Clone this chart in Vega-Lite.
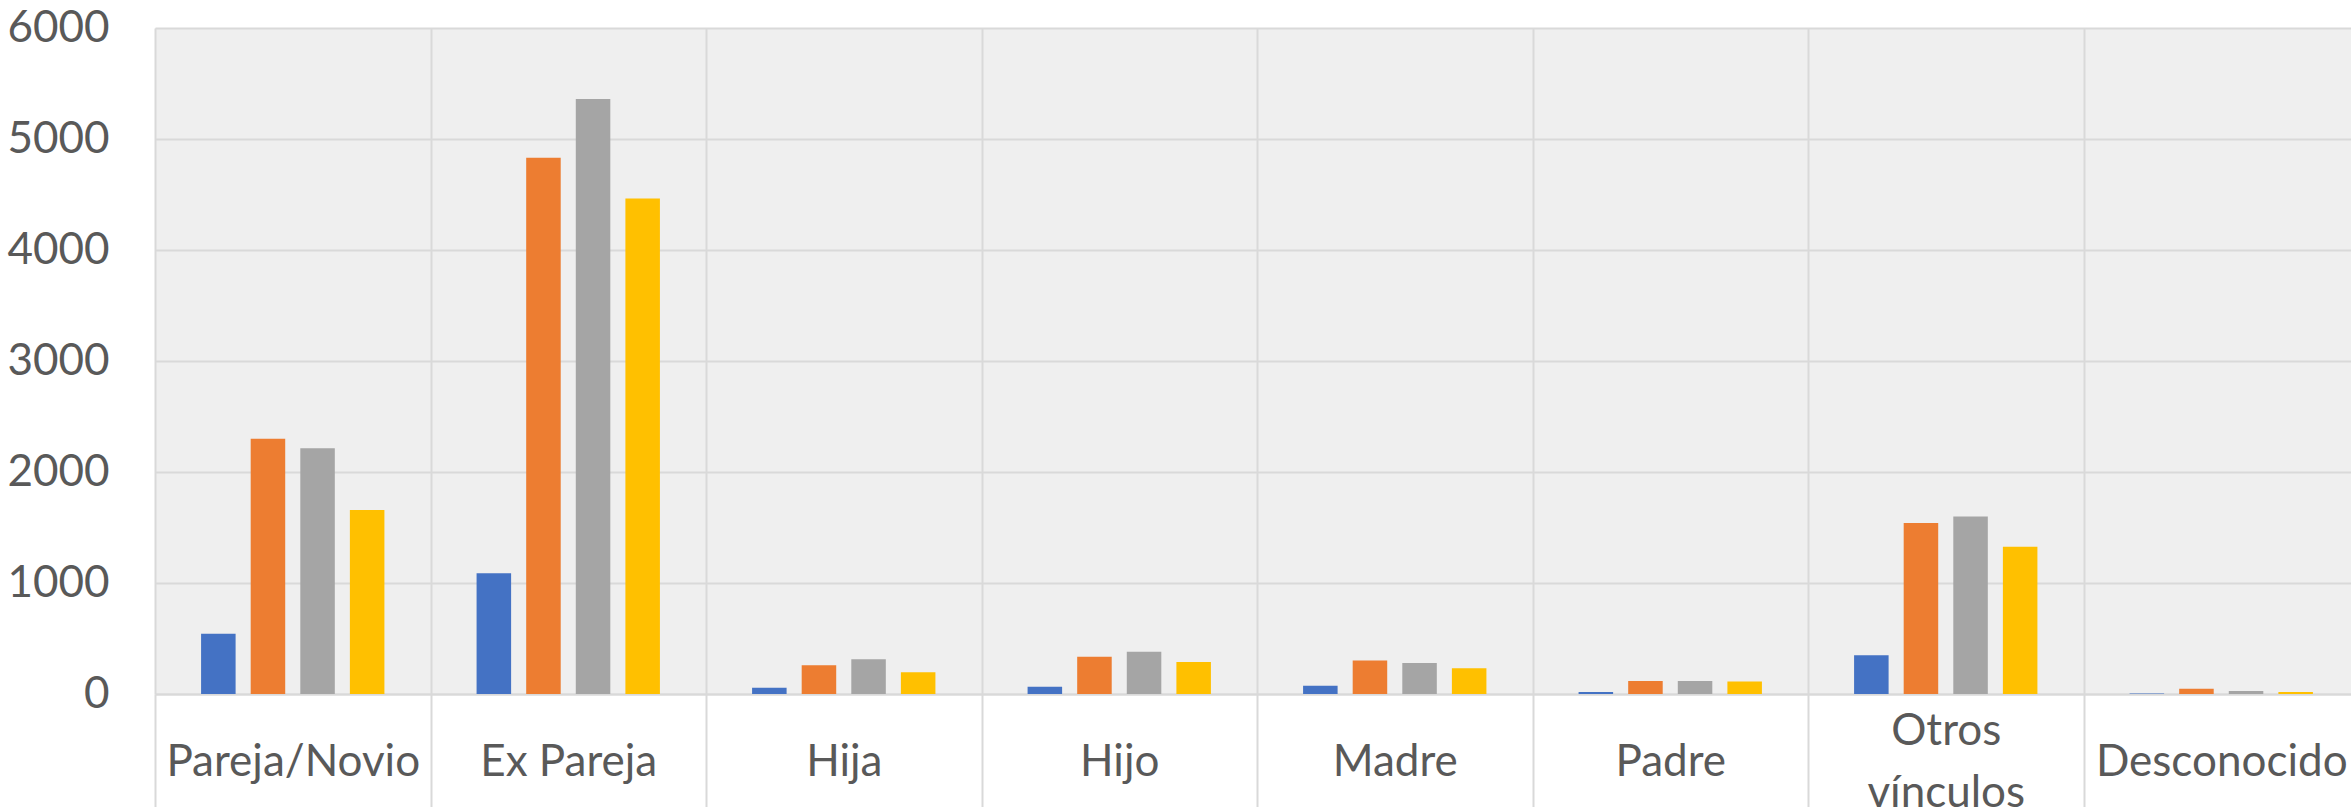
{
  "$schema": "https://vega.github.io/schema/vega-lite/v6.json",
  "width": 2204,
  "height": 666,
  "autosize": {"type": "none"},
  "padding": {"left": 155, "top": 28, "right": 0, "bottom": 113},
  "background": "white",
  "config": {
    "view": {"stroke": null, "fill": "#efefef"},
    "font": "Lato"
  },
  "data": {
    "values": [
      {"vinculo": "Pareja/Novio", "serie": "S1", "valor": 542},
      {"vinculo": "Pareja/Novio", "serie": "S2", "valor": 2300},
      {"vinculo": "Pareja/Novio", "serie": "S3", "valor": 2213},
      {"vinculo": "Pareja/Novio", "serie": "S4", "valor": 1657},
      {"vinculo": "Ex Pareja", "serie": "S1", "valor": 1088},
      {"vinculo": "Ex Pareja", "serie": "S2", "valor": 4830},
      {"vinculo": "Ex Pareja", "serie": "S3", "valor": 5360},
      {"vinculo": "Ex Pareja", "serie": "S4", "valor": 4463},
      {"vinculo": "Hija", "serie": "S1", "valor": 56},
      {"vinculo": "Hija", "serie": "S2", "valor": 260},
      {"vinculo": "Hija", "serie": "S3", "valor": 312},
      {"vinculo": "Hija", "serie": "S4", "valor": 195},
      {"vinculo": "Hijo", "serie": "S1", "valor": 65},
      {"vinculo": "Hijo", "serie": "S2", "valor": 335},
      {"vinculo": "Hijo", "serie": "S3", "valor": 381},
      {"vinculo": "Hijo", "serie": "S4", "valor": 288},
      {"vinculo": "Madre", "serie": "S1", "valor": 74},
      {"vinculo": "Madre", "serie": "S2", "valor": 302},
      {"vinculo": "Madre", "serie": "S3", "valor": 279},
      {"vinculo": "Madre", "serie": "S4", "valor": 233},
      {"vinculo": "Padre", "serie": "S1", "valor": 19},
      {"vinculo": "Padre", "serie": "S2", "valor": 116},
      {"vinculo": "Padre", "serie": "S3", "valor": 116},
      {"vinculo": "Padre", "serie": "S4", "valor": 112},
      {"vinculo": "Otros vínculos", "serie": "S1", "valor": 349},
      {"vinculo": "Otros vínculos", "serie": "S2", "valor": 1540},
      {"vinculo": "Otros vínculos", "serie": "S3", "valor": 1600},
      {"vinculo": "Otros vínculos", "serie": "S4", "valor": 1326},
      {"vinculo": "Desconocido", "serie": "S1", "valor": 4},
      {"vinculo": "Desconocido", "serie": "S2", "valor": 47},
      {"vinculo": "Desconocido", "serie": "S3", "valor": 28},
      {"vinculo": "Desconocido", "serie": "S4", "valor": 19}
    ]
  },
  "mark": {"type": "bar"},
  "encoding": {
    "x": {
      "field": "vinculo",
      "type": "nominal",
      "sort": ["Pareja/Novio", "Ex Pareja", "Hija", "Hijo", "Madre", "Padre", "Otros vínculos", "Desconocido"],
      "scale": {"paddingInner": 0, "paddingOuter": 0},
      "title": null,
      "axis": {
        "labelAngle": 0,
        "labelFont": "Lato",
        "labelFontSize": 44,
        "labelColor": "#595959",
        "labelBaseline": {"condition": {"test": "datum.value == 'Otros vínculos'", "value": "line-bottom"}, "value": "middle"},
        "labelPadding": -45,
        "labelLineHeight": 62,
        "labelLimit": 0,
        "labelExpr": "datum.label == 'Otros vínculos' ? ['Otros', 'vínculos'] : datum.label",
        "tickBand": "extent",
        "grid": true,
        "gridColor": "#d9d9d9",
        "gridWidth": 2,
        "ticks": true,
        "tickSize": 113,
        "tickColor": "#d9d9d9",
        "tickWidth": 2,
        "domain": true,
        "domainColor": "#d9d9d9",
        "domainWidth": 2
      }
    },
    "xOffset": {
      "field": "serie",
      "type": "nominal",
      "scale": {"paddingInner": 0.304, "paddingOuter": 0.929}
    },
    "y": {
      "field": "valor",
      "type": "quantitative",
      "scale": {"domain": [0, 6000], "nice": false},
      "title": null,
      "axis": {
        "values": [0, 1000, 2000, 3000, 4000, 5000, 6000],
        "format": "d",
        "labelFont": "Lato",
        "labelFontSize": 44,
        "labelColor": "#595959",
        "labelPadding": 46,
        "domain": false,
        "ticks": false,
        "grid": true,
        "gridColor": "#d9d9d9",
        "gridWidth": 2
      }
    },
    "color": {
      "field": "serie",
      "type": "nominal",
      "scale": {"domain": ["S1", "S2", "S3", "S4"], "range": ["#4472C4", "#ED7D31", "#A5A5A5", "#FFC000"]},
      "legend": null
    }
  }
}
